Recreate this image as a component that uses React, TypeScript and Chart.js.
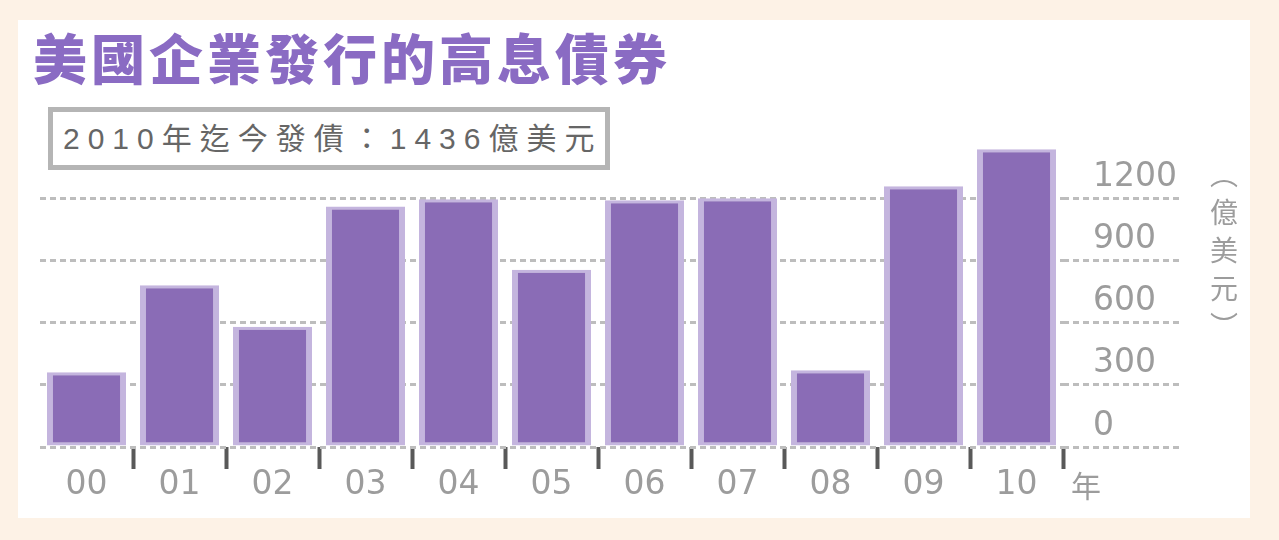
import React, { useEffect, useRef } from "react";
import { Chart, registerables } from "chart.js";

Chart.register(...registerables);

const CATEGORIES = ["00", "01", "02", "03", "04", "05", "06", "07", "08", "09", "10"];
const ISSUANCE = [360, 780, 580, 1160, 1195, 855, 1190, 1200, 370, 1258, 1436];
const Y_TICKS = [0, 300, 600, 900, 1200];
const Y_MAX = 1500;
const TITLE = "美國企業發行的高息債券";
const NOTE = "2010年迄今發債：1436億美元";
const UNIT = "（億美元）";
const X_UNIT = "年";

const PURPLE = "#8a6cb6";
const PURPLE_LIGHT = "#c4b5de";
const GRID = "#bdbdbd";
const LABEL = "#9c9c9c";

export default function App() {
  const canvasRef = useRef<HTMLCanvasElement | null>(null);

  useEffect(() => {
    document.body.style.margin = "0";
    const canvas = canvasRef.current;
    if (!canvas) return;
    const chart = new Chart(canvas, {
      type: "bar",
      data: {
        labels: CATEGORIES,
        datasets: [
          {
            data: ISSUANCE,
            backgroundColor: PURPLE,
            borderColor: PURPLE_LIGHT,
            borderWidth: { top: 3, left: 6, right: 6, bottom: 3 },
            borderSkipped: false,
            categoryPercentage: 1,
            barPercentage: 0.85,
          },
        ],
      },
      options: {
        animation: false,
        responsive: true,
        maintainAspectRatio: false,
        layout: { padding: { left: 40, top: 136, right: 16, bottom: 33 } },
        plugins: {
          legend: { display: false },
          tooltip: { enabled: false },
          title: { display: false },
        },
        scales: {
          x: {
            type: "category",
            offset: true,
            border: { display: false },
            grid: {
              offset: true,
              drawOnChartArea: false,
              drawTicks: true,
              tickLength: 22,
              tickWidth: 4,
              tickColor: (ctx: any) => (ctx.index === 0 ? "rgba(0,0,0,0)" : "#595959"),
            },
            ticks: {
              color: LABEL,
              padding: -3,
              font: { family: "'DejaVu Sans'", size: 33 },
              maxRotation: 0,
              autoSkip: false,
            },
            afterFit: (scale: any) => {
              scale.height = 60;
            },
          },
          y: {
            type: "linear",
            position: "right",
            min: 0,
            max: Y_MAX,
            border: { display: false, dash: [6, 4] },
            grid: {
              color: GRID,
              lineWidth: 3,
              drawTicks: true,
              tickLength: 117,
              tickColor: GRID,
              tickWidth: 3,
              tickBorderDash: [6, 4],
            },
            afterBuildTicks: (scale: any) => {
              scale.ticks = Y_TICKS.map((v) => ({ value: v }));
            },
            ticks: {
              color: LABEL,
              padding: -87,
              crossAlign: "near",
              labelOffset: -21,
              font: { family: "'DejaVu Sans'", size: 33 },
              callback: (value: any) => String(value),
            },
            afterFit: (scale: any) => {
              scale.width = 200;
            },
          },
        },
      },
    });
    return () => chart.destroy();
  }, []);

  return (
    <div
      style={{
        position: "relative",
        width: 1279,
        height: 540,
        background: "#fdf2e6",
        overflow: "hidden",
      }}
    >
      <div
        style={{
          position: "absolute",
          left: 18,
          top: 20,
          width: 1232,
          height: 498,
          background: "#ffffff",
        }}
      />
      <div style={{ position: "absolute", left: 0, top: 0, width: 1279, height: 540 }}>
        <canvas ref={canvasRef} />
      </div>
      <div
        style={{
          position: "absolute",
          left: 33,
          top: 30,
          fontFamily: "'Noto Sans CJK TC', 'Noto Sans CJK SC', sans-serif",
          fontWeight: 900,
          fontSize: 54,
          lineHeight: "54px",
          letterSpacing: 4,
          color: "#8a6bc3",
          whiteSpace: "nowrap",
        }}
      >
        {TITLE}
      </div>
      <div
        style={{
          position: "absolute",
          left: 48,
          top: 107,
          width: 562,
          height: 63,
          boxSizing: "border-box",
          border: "5px solid #b5b5b5",
          background: "#ffffff",
          paddingLeft: 10,
          fontFamily: "'Liberation Sans', 'Noto Sans CJK TC', sans-serif",
          fontSize: 30,
          lineHeight: "53px",
          letterSpacing: 8,
          color: "#666666",
          whiteSpace: "nowrap",
        }}
      >
        {NOTE}
      </div>
      <div
        style={{
          position: "absolute",
          left: 1208,
          top: 160,
          writingMode: "vertical-rl",
          fontFamily: "'Noto Sans CJK TC', sans-serif",
          fontSize: 28,
          letterSpacing: 10,
          lineHeight: "32px",
          color: LABEL,
          whiteSpace: "nowrap",
        }}
      >
        {UNIT}
      </div>
      <div
        style={{
          position: "absolute",
          left: 1071,
          top: 466,
          fontFamily: "'Noto Sans CJK TC', sans-serif",
          fontSize: 30,
          lineHeight: "36px",
          color: LABEL,
        }}
      >
        {X_UNIT}
      </div>
    </div>
  );
}
